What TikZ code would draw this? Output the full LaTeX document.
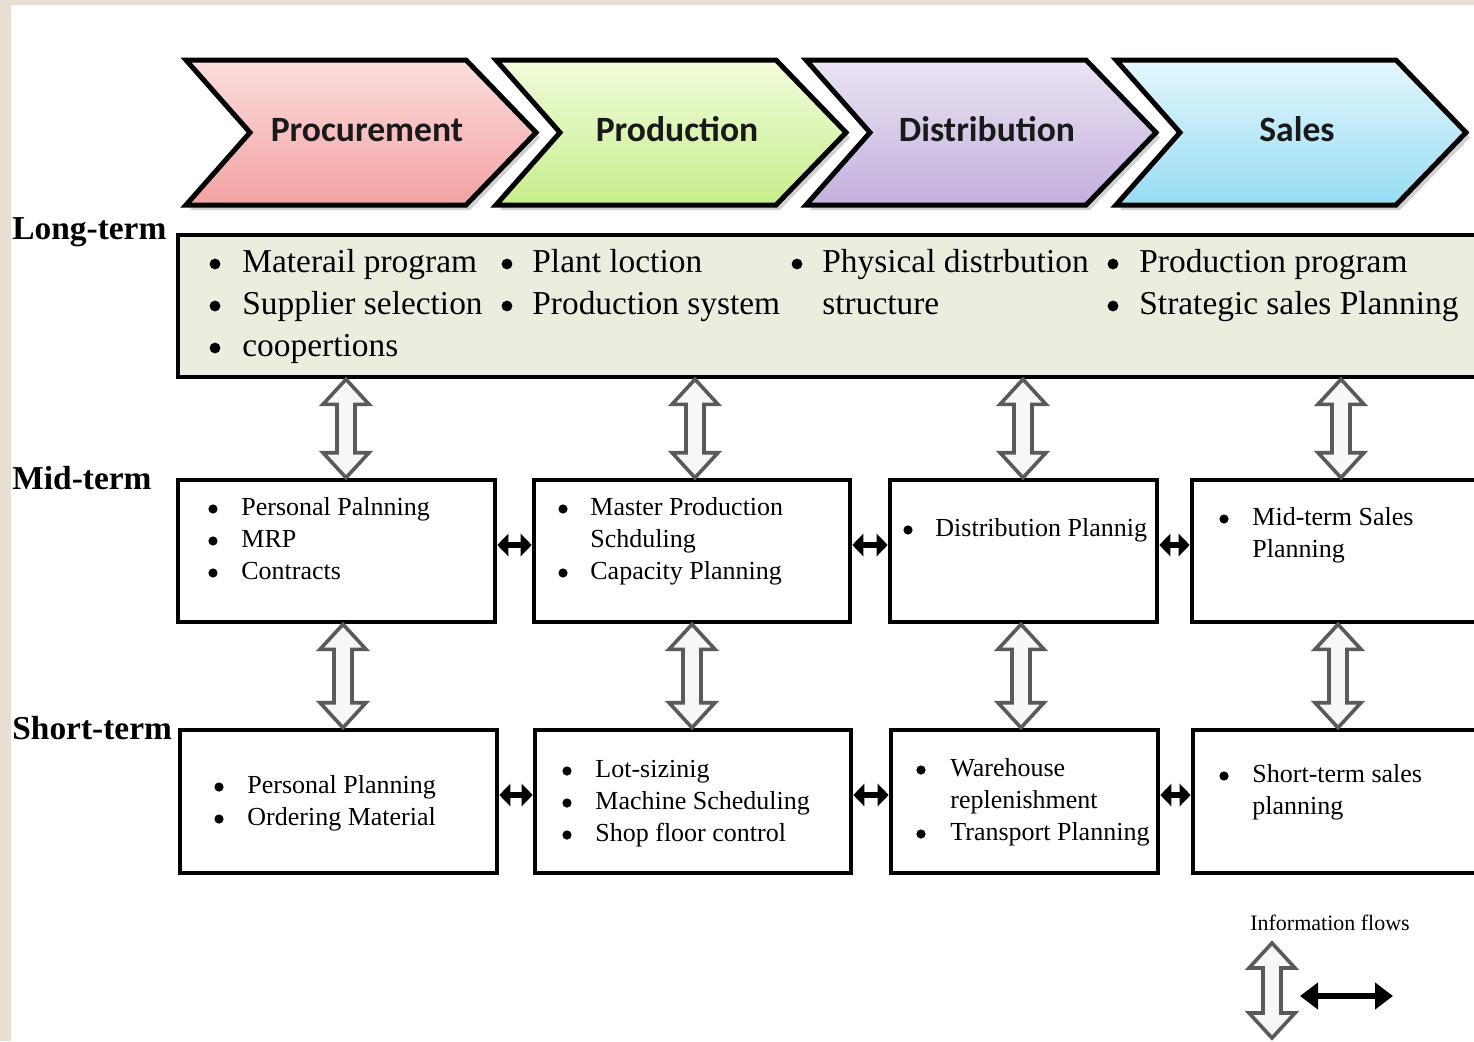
\documentclass[tikz,border=0pt]{standalone}
\usepackage{fontspec}
\setmainfont{Liberation Serif}
\newfontfamily\chevfont{Carlito}
\usetikzlibrary{arrows.meta,calc,fit}
\definecolor{bgbeige}{HTML}{E7DFD4}
\definecolor{ltgreen}{HTML}{E9EEDF}
\definecolor{pkT}{HTML}{FCDDDD}\definecolor{pkB}{HTML}{F3A2A2}
\definecolor{grT}{HTML}{F2FCDB}\definecolor{grB}{HTML}{C6EE8B}
\definecolor{vlT}{HTML}{ECE4F4}\definecolor{vlB}{HTML}{C2AFDC}
\definecolor{blT}{HTML}{E4F7FD}\definecolor{blB}{HTML}{97DCF3}
\definecolor{arrgray}{HTML}{5A5A5A}
\tikzset{
  box/.style={draw=black, line width=2.3pt, inner sep=0pt, fill=white},
  ltbox/.style={box, fill=ltgreen},
  itm/.style={anchor=base west, inner sep=0pt, font=\fontsize{13}{16}\selectfont},
  bul/.style={circle, fill=black, inner sep=0pt, minimum size=4.6pt},
  litm/.style={anchor=base west, inner sep=0pt, font=\fontsize{16.7}{21}\selectfont},
  lbul/.style={circle, fill=black, inner sep=0pt, minimum size=5.4pt},
  term/.style={anchor=base west, inner sep=0pt, font=\bfseries\fontsize{16.7}{20}\selectfont},
  chevtxt/.style={anchor=base, inner sep=0pt, font=\chevfont\bfseries\fontsize{17.8}{20}\selectfont, text=black!90},
  chevshape/.style={draw=black, line width=2.5pt, line join=miter},
  hollow/.style={draw=arrgray, line width=1.8pt, fill=black!3, line join=miter},
  blk/.style={line width=3pt, {Triangle[length=5.5pt,width=11pt]}-{Triangle[length=5.5pt,width=11pt]}},
  blkleg/.style={line width=3.2pt, {Triangle[length=9pt,width=13pt]}-{Triangle[length=9pt,width=13pt]}}
}
% chevron: #1 name, #2 left x, #3 top colour, #4 bottom colour, #5 text
\newcommand\chevron[5]{%
  \fill[black!45, opacity=0.4] (#2+4,65) -- ++(280,0) -- ++(70,72.5) -- ++(-70,72.5) -- ++(-280,0) -- ++(64,-72.5) -- cycle;
  \path[chevshape, top color=#3, bottom color=#4] (#2,60) -- ++(280,0) -- ++(70,72.5) -- ++(-70,72.5) -- ++(-280,0) -- ++(64,-72.5) -- cycle;
  \node[chevtxt] (#1) at (#2+181,141) {#5};}
% hollow double arrow: #1 name, #2 x, #3 upper point, #4 lower point
\newcommand\vflow[4]{%
  \coordinate (#1t) at (#2,0 |- #3);
  \coordinate (#1b) at (#2,0 |- #4);
  \draw[hollow] let \p1=(#1t), \p2=(#1b) in
    (\x1,\y1) -- (\x1+11.5pt,\y1-12.5pt) -- (\x1+4.5pt,\y1-12.5pt) -- (\x1+4.5pt,\y2+12.5pt)
    -- (\x1+11.5pt,\y2+12.5pt) -- (\x1,\y2) -- (\x1-11.5pt,\y2+12.5pt) -- (\x1-4.5pt,\y2+12.5pt)
    -- (\x1-4.5pt,\y1-12.5pt) -- (\x1-11.5pt,\y1-12.5pt) -- cycle;}
\begin{document}
\begin{tikzpicture}[x=0.5pt,y=-0.5pt]
\useasboundingbox (0,0) rectangle (1474,1041);
\fill[bgbeige] (0,0) rectangle (1474,1041);
\fill[white] (11,5) rectangle (1474,1041);

% chevrons
\chevron{cproc}{186}{pkT}{pkB}{Procurement}
\chevron{cprod}{496}{grT}{grB}{Production}
\chevron{cdist}{806}{vlT}{vlB}{Distribution}
\chevron{csale}{1116}{blT}{blB}{Sales}

% term labels
\node[term] (llong) at (12,239) {Long-term};
\node[term] (lmid) at (12,489) {Mid-term};
\node[term] (lshort) at (12,739) {Short-term};

% long-term box
\node[ltbox, fit={(178,235) (1520,377)}] (lt) {};
\node[lbul] (l1a) at (215,264) {};
\node[litm] (l1at) at (242,272) {Materail program};
\node[lbul] (l1b) at (215,306) {};
\node[litm] (l1bt) at (242,314) {Supplier selection};
\node[lbul] (l1c) at (215,348) {};
\node[litm] (l1ct) at (242,356) {coopertions};
\node[lbul] (l2a) at (507,264) {};
\node[litm] (l2at) at (532,272) {Plant loction};
\node[lbul] (l2b) at (507,306) {};
\node[litm] (l2bt) at (532,314) {Production system};
\node[lbul] (l3a) at (797,264) {};
\node[litm] (l3at) at (822,272) {Physical distrbution};
\node[litm] (l3bt) at (822,314) {structure};
\node[lbul] (l4a) at (1113,264) {};
\node[litm] (l4at) at (1139,272) {Production program};
\node[lbul] (l4b) at (1113,306) {};
\node[litm] (l4bt) at (1139,314) {Strategic sales Planning};

% mid-term boxes
\node[box, fit={(178,480) (495,622)}] (m1) {};
\node[box, fit={(534,480) (850,622)}] (m2) {};
\node[box, fit={(890,480) (1157,622)}] (m3) {};
\node[box, fit={(1192,480) (1520,622)}] (m4) {};
\node[bul] (m1a) at (213,509) {};
\node[itm] (m1at) at (241,515) {Personal Palnning};
\node[bul] (m1b) at (213,541) {};
\node[itm] (m1bt) at (241,547) {MRP};
\node[bul] (m1c) at (213,573) {};
\node[itm] (m1ct) at (241,579) {Contracts};
\node[bul] (m2a) at (563,509) {};
\node[itm] (m2at) at (590,515) {Master Production};
\node[itm] (m2bt) at (590,547) {Schduling};
\node[bul] (m2c) at (563,573) {};
\node[itm] (m2ct) at (590,579) {Capacity Planning};
\node[bul] (m3a) at (908,530) {};
\node[itm] (m3at) at (935,536) {Distribution Plannig};
\node[bul] (m4a) at (1224,519) {};
\node[itm] (m4at) at (1252,525) {Mid-term Sales};
\node[itm] (m4bt) at (1252,557) {Planning};

% short-term boxes
\node[box, fit={(180,730) (497,873)}] (s1) {};
\node[box, fit={(535,730) (851,873)}] (s2) {};
\node[box, fit={(891,730) (1158,873)}] (s3) {};
\node[box, fit={(1193,730) (1520,873)}] (s4) {};
\node[bul] (s1a) at (219,787) {};
\node[itm] (s1at) at (247,793) {Personal Planning};
\node[bul] (s1b) at (219,819) {};
\node[itm] (s1bt) at (247,825) {Ordering Material};
\node[bul] (s2a) at (567,771) {};
\node[itm] (s2at) at (595,777) {Lot-sizinig};
\node[bul] (s2b) at (567,803) {};
\node[itm] (s2bt) at (595,809) {Machine Scheduling};
\node[bul] (s2c) at (567,835) {};
\node[itm] (s2ct) at (595,841) {Shop floor control};
\node[bul] (s3a) at (921,770) {};
\node[itm] (s3at) at (950,776) {Warehouse};
\node[itm] (s3bt) at (950,808) {replenishment};
\node[bul] (s3c) at (921,834) {};
\node[itm] (s3ct) at (950,840) {Transport Planning};
\node[bul] (s4a) at (1224,776) {};
\node[itm] (s4at) at (1252,782) {Short-term sales};
\node[itm] (s4bt) at (1252,814) {planning};

% vertical information flows
\vflow{va1}{346}{lt.south}{m1.north}
\vflow{va2}{695}{lt.south}{m2.north}
\vflow{va3}{1023}{lt.south}{m3.north}
\vflow{va4}{1341}{lt.south}{m4.north}
\vflow{vb1}{343}{m1.south}{s1.north}
\vflow{vb2}{692}{m2.south}{s2.north}
\vflow{vb3}{1021}{m3.south}{s3.north}
\vflow{vb4}{1338}{m4.south}{s4.north}

% horizontal information flows
\draw[blk] (m1.east |- 0,545) -- (m2.west |- 0,545);
\draw[blk] (m2.east |- 0,545) -- (m3.west |- 0,545);
\draw[blk] (m3.east |- 0,545) -- (m4.west |- 0,545);
\draw[blk] (s1.east |- 0,795) -- (s2.west |- 0,795);
\draw[blk] (s2.east |- 0,795) -- (s3.west |- 0,795);
\draw[blk] (s3.east |- 0,795) -- (s4.west |- 0,795);

% legend
\node[anchor=base, inner sep=0pt, font=\fontsize{11}{13}\selectfont] (leg) at (1330,930) {Information flows};
\coordinate (lgt) at (1272,943);
\coordinate (lgb) at (1272,1038);
\vflow{lgv}{1272}{lgt}{lgb}
\coordinate (lh1) at (1300,996);
\coordinate (lh2) at (1393,996);
\draw[blkleg] (lh1) -- (lh2);
\end{tikzpicture}
\end{document}
